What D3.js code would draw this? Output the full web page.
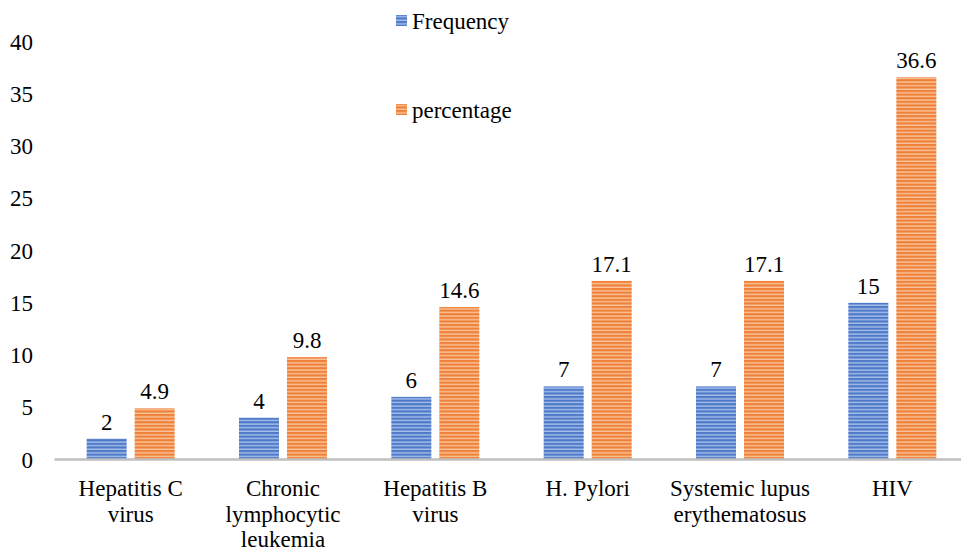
<!DOCTYPE html>
<html>
<head>
<meta charset="utf-8">
<script src="https://cdn.jsdelivr.net/npm/d3@7/dist/d3.min.js"></script>
<style>
  html, body { margin: 0; padding: 0; background: #fff; }
  svg { display: block; }
</style>
</head>
<body>
<svg id="chart" width="961" height="553"></svg>
<script>
// Infections: frequency and percentage
const categories = [
  ["Hepatitis C", "virus"],
  ["Chronic", "lymphocytic", "leukemia"],
  ["Hepatitis B", "virus"],
  ["H. Pylori"],
  ["Systemic lupus", "erythematosus"],
  ["HIV"]
];
const frequency = [2, 4, 6, 7, 7, 15];
const percentage = [4.9, 9.8, 14.6, 17.1, 17.1, 36.6];
const seriesNames = ["Frequency", "percentage"];
const yTicks = [0, 5, 10, 15, 20, 25, 30, 35, 40];

const FONT = '"Liberation Serif", "Times New Roman", Tinos, serif';
const FS = "23px";

// apply the serif face inline so it wins over any inherited rule
function serif(sel) {
  return sel.style("font-family", FONT).style("font-size", FS).style("fill", "#000");
}

const svg = d3.select("#chart");

// striped fills for the two series
const defs = svg.append("defs");
const stripes = [
  { id: "stripe-blue", base: "#4d79c9", light: "#a8bfe9" },
  { id: "stripe-orange", base: "#ef8038", light: "#f9c49c" }
];
stripes.forEach(s => {
  const p = defs.append("pattern")
    .attr("id", s.id)
    .attr("patternUnits", "userSpaceOnUse")
    .attr("width", 8).attr("height", 3.6);
  p.append("rect").attr("width", 8).attr("height", 3.6).attr("fill", s.base);
  p.append("rect").attr("y", 2.2).attr("width", 8).attr("height", 1.4).attr("fill", s.light);
});

const x0 = d3.scaleBand()
  .domain(d3.range(categories.length))
  .range([54.5, 968.5])
  .paddingInner(0).paddingOuter(0);

const y = d3.scaleLinear().domain([0, 40]).range([459.5, 41.7]);

const barW = 40, gap = 8;

// y-axis labels (no axis line)
svg.append("g").selectAll("text")
  .data(yTicks)
  .join("text")
  .attr("x", 33)
  .attr("y", d => y(d))
  .attr("dy", "0.35em")
  .attr("text-anchor", "end")
  .call(serif)
  .text(d => d);

// bars
const groups = svg.append("g").selectAll("g")
  .data(categories.map((c, i) => ({ i, vals: [frequency[i], percentage[i]] })))
  .join("g");

groups.each(function (d) {
  const g = d3.select(this);
  const cx = x0(d.i) + x0.bandwidth() / 2;
  d.vals.forEach((v, k) => {
    const bx = k === 0 ? cx - gap / 2 - barW : cx + gap / 2;
    g.append("rect")
      .attr("x", bx)
      .attr("y", y(v))
      .attr("width", barW)
      .attr("height", y(0) - y(v))
      .attr("fill", `url(#${stripes[k].id})`);
    g.append("text")
      .attr("x", bx + barW / 2)
      .attr("y", y(v) - 9)
      .attr("text-anchor", "middle")
      .call(serif)
      .text(v);
  });
});

// x-axis baseline
svg.append("line")
  .attr("x1", 54.5).attr("x2", 961)
  .attr("y1", y(0)).attr("y2", y(0))
  .attr("stroke", "#bfbfbf").attr("stroke-width", 2.5);

// category labels
svg.append("g").selectAll("text")
  .data(categories)
  .join("text")
  .attr("text-anchor", "middle")
  .call(serif)
  .attr("transform", (d, i) => `translate(${x0(i) + x0.bandwidth() / 2},${496})`)
  .each(function (lines) {
    d3.select(this).selectAll("tspan")
      .data(lines)
      .join("tspan")
      .attr("x", 0)
      .attr("y", (l, j) => j * 25.5)
      .text(l => l);
  });

// legend
const legendY = [21, 110];
const legend = svg.append("g").selectAll("g")
  .data(seriesNames)
  .join("g")
  .attr("transform", (d, i) => `translate(396,${legendY[i]})`);
legend.append("rect")
  .attr("x", 0).attr("y", -6)
  .attr("width", 11).attr("height", 11)
  .attr("fill", (d, i) => `url(#${stripes[i].id})`);
legend.append("text")
  .attr("x", 16).attr("dy", "0.35em")
  .call(serif)
  .text(d => d);
</script>
</body>
</html>
